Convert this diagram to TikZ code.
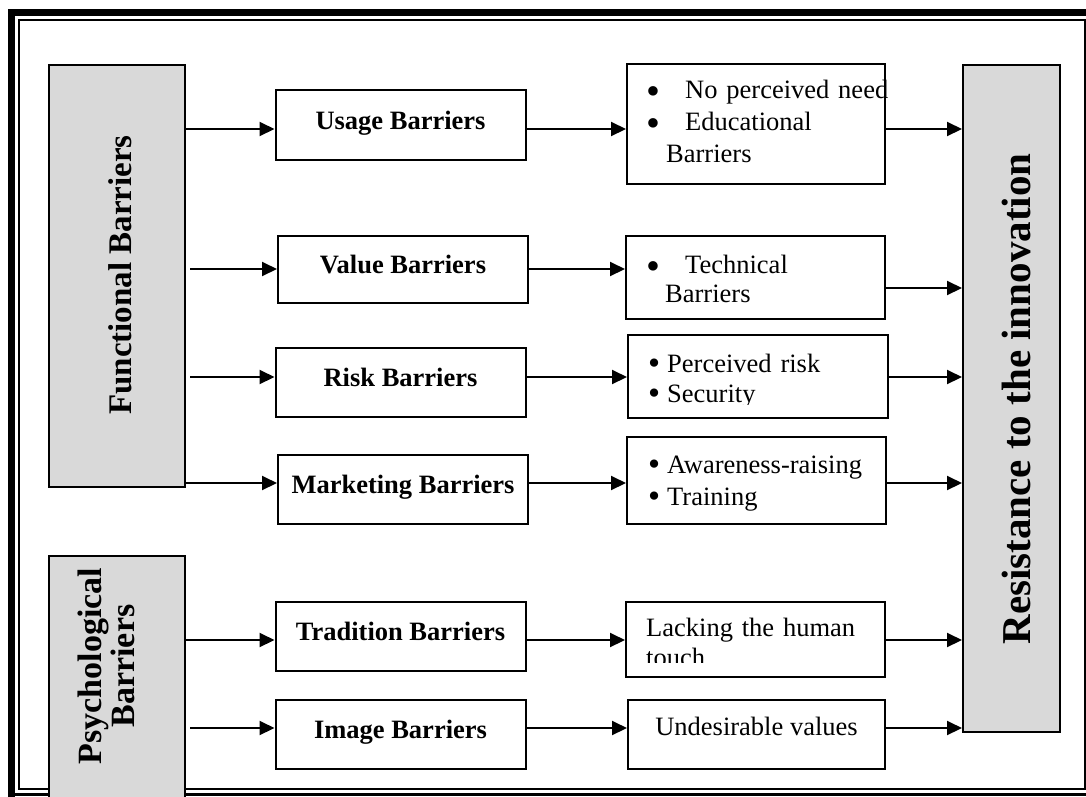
\documentclass[tikz,border=0pt]{standalone}
\usepackage{fontspec}
\setmainfont{Liberation Serif}
\usetikzlibrary{arrows.meta,calc}
\definecolor{sidegray}{HTML}{D9D9D9}
\newcommand{\bigbul}{\smash{\raisebox{-6.5pt}{\scalebox{1.5}{\textbullet}}}}
\newcommand{\midbul}{\smash{\raisebox{-2pt}{\scalebox{1.3}{\textbullet}}}}
\begin{document}
\begin{tikzpicture}[x=1pt,y=-1pt,
  side/.style={draw=black, line width=2pt, fill=sidegray, anchor=north west, inner sep=0pt},
  midbox/.style={draw=black, line width=2pt, anchor=north west, inner sep=0pt,
    minimum width=250pt, minimum height=69pt,
    font=\fontsize{26.5}{30}\selectfont\bfseries, text height=18pt, text depth=10pt},
  rbox/.style={draw=black, line width=2pt, anchor=north west, inner sep=0pt},
  rtxt/.style={anchor=base west, inner sep=0pt, align=left, text width=250pt},
  vtxt/.style={rotate=90, inner sep=0pt, align=center},
  arr/.style={line width=2pt, -{Triangle[length=15pt,width=14pt]}},
]
\useasboundingbox (0,0) rectangle (1086,796);
\fill[white] (0,0) rectangle (1086,796);
% page frame
\draw[line width=7pt] (11.5,820) -- (11.5,12.5) -- (1100,12.5);
\draw[line width=2pt] (19,20) rectangle (1085,788.5);
\draw[line width=3pt] (8,794.5) -- (1100,794.5);

% side boxes
\node[side, minimum width=136pt, minimum height=422pt] (func) at (48,64) {};
\node[vtxt, font=\fontsize{33}{36}\selectfont\bfseries] (functxt) at (120,275) {Functional Barriers};
\node[side, minimum width=136pt, minimum height=270pt] (psych) at (48,555) {};
\node[vtxt, font=\fontsize{34}{33}\selectfont\bfseries] (psychtxt) at (106,666) {Psychological\\Barriers};
\node[side, minimum width=97pt, minimum height=667pt] (resist) at (962,64) {};
\node[vtxt, font=\fontsize{41}{44}\selectfont\bfseries] (resisttxt) at (1016,399) {Resistance to the innovation};

% middle boxes
\node[midbox, minimum height=70pt] (usage) at (274.5,89) {Usage Barriers};
\node[midbox, minimum height=67pt] (value) at (277,235) {Value Barriers};
\node[midbox] (risk) at (274.5,347) {Risk Barriers};
\node[midbox] (market) at (277,454) {Marketing Barriers};
\node[midbox] (trad) at (274.5,601) {Tradition Barriers};
\node[midbox] (image) at (274.5,699) {Image Barriers};

% right boxes
\node[rbox, minimum width=258pt, minimum height=120pt] (r1) at (626,63) {};
\node[rbox, minimum width=259pt, minimum height=83pt] (r2) at (625,235) {};
\node[rbox, minimum width=260pt, minimum height=83pt] (r3) at (627,334) {};
\node[rbox, minimum width=259pt, minimum height=87pt] (r4) at (626,436) {};
\node[rbox, minimum width=259pt, minimum height=75pt] (r5) at (625,601) {};
\node[rbox, minimum width=257pt, minimum height=69pt, font=\fontsize{26.5}{30}\selectfont,
      text height=18pt, text depth=17pt] (r6) at (627,699) {Undesirable values};

\node[rtxt, font=\fontsize{26.5}{32}\selectfont] (t1) at (646,98)
  {\makebox[39pt][l]{\bigbul}No perceived need\\\makebox[39pt][l]{\bigbul}Educational\\\hspace*{20pt}Barriers};
\node[rtxt, font=\fontsize{26.5}{29}\selectfont] (t2) at (646,273)
  {\makebox[39pt][l]{\bigbul}Technical\\\hspace*{19pt}Barriers};
\begin{scope}
  \clip (620,330) rectangle (890,404);
  \node[rtxt, font=\fontsize{26.5}{30}\selectfont] (t3) at (648,372)
    {\makebox[19pt][l]{\midbul}Perceived risk\\\makebox[19pt][l]{\midbul}Security};
\end{scope}
\node[rtxt, font=\fontsize{26.5}{32}\selectfont] (t4) at (648,473)
  {\makebox[19pt][l]{\midbul}Awareness-raising\\\makebox[19pt][l]{\midbul}Training};
\begin{scope}
  \clip (620,595) rectangle (890,662);
  \node[rtxt, font=\fontsize{26.5}{30}\selectfont] (t5) at (646,636)
    {Lacking the human\\touch};
\end{scope}

% arrows: left column to middle
\draw[arr] (func.east |- 0,129) -- (usage.west |- 0,129);
\draw[arr] ($(func.east |- 0,269)+(4,0)$) -- (value.west |- 0,269);
\draw[arr] ($(func.east |- 0,377)+(4,0)$) -- (risk.west |- 0,377);
\draw[arr] (func.east |- 0,483) -- (market.west |- 0,483);
\draw[arr] (psych.east |- 0,640) -- (trad.west |- 0,640);
\draw[arr] ($(psych.east |- 0,728)+(4,0)$) -- (image.west |- 0,728);
% middle to right boxes
\draw[arr] (usage.east |- 0,129) -- (r1.west |- 0,129);
\draw[arr] (value.east |- 0,269) -- (r2.west |- 0,269);
\draw[arr] (risk.east |- 0,377) -- (r3.west |- 0,377);
\draw[arr] (market.east |- 0,483) -- (r4.west |- 0,483);
\draw[arr] (trad.east |- 0,640) -- (r5.west |- 0,640);
\draw[arr] (image.east |- 0,728) -- (r6.west |- 0,728);
% right boxes to resistance
\draw[arr] (r1.east |- 0,129) -- (resist.west |- 0,129);
\draw[arr] (r2.east |- 0,288) -- (resist.west |- 0,288);
\draw[arr] (r3.east |- 0,377) -- (resist.west |- 0,377);
\draw[arr] (r4.east |- 0,483) -- (resist.west |- 0,483);
\draw[arr] (r5.east |- 0,640) -- (resist.west |- 0,640);
\draw[arr] (r6.east |- 0,728) -- (resist.west |- 0,728);
\end{tikzpicture}
\end{document}
